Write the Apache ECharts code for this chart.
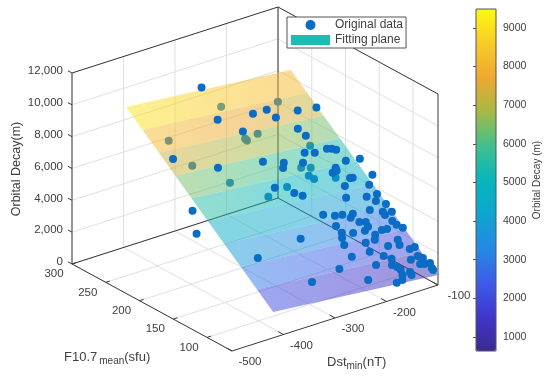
<!DOCTYPE html>
<html>
<head>
<meta charset="utf-8">
<style>html,body{margin:0;padding:0;background:#fff}#c{width:550px;height:380px}</style>
<script src="https://cdn.jsdelivr.net/npm/echarts@6/dist/echarts.min.js"></script>
</head>
<body>
<div id="c"></div>
<script>
// ---- data ----
const topDst = [-276,-288,-222,-194,-188,-260,-410,-345,-263,-274,-143,-108,-165,-160,-182,-165,-140,-132,-126,-123,-97,-229,-237,-197,-148,-159,-150,-137,-132,-95,-113,-155,-248,-237,-131,-111,-167,-121,-108,-142,-122,-123,-107,-226,-207,-194,-175,-183,-174,-163,-165,-175,-218,-198,-216,-222,-227,-188,-163,-169,-146,-136,-118,-115,-108,-131,-134,-155,-122,-111,-292,-387,-192,-228,-174,-164,-133,-117,-111,-123,-116,-105,-108,-108,-198,-171,-165,-162,-150,-149,-165,-172,-184,-264,-325,-229,-439,-460];
const topF107 = [279,246,244,245,236,230,219,202,198,172,238,237,221,213,198,196,197,196,194,182,181,193,188,189,178,174,175,165,165,164,155,159,163,159,145,145,148,139,134,132,128,124,126,137,134,133,132,129,123,122,117,114,124,114,117,112,105,103,108,104,111,111,117,113,109,99,94,95,88,89,120,111,94,93,87,83,78,80,77,72,71,71,66,64,80,77,74,71,64,67,66,61,60,84,78,68,168,146];
const topDecay = [9252,8112,7847,7788,7440,7445,7536,6706,6314,5402,7368,7217,6840,6534,6049,5923,5889,5826,5746,5298,5180,6020,5887,5781,5219,5110,5119,4750,4712,4548,4305,4578,5015,4814,3979,3941,4214,3748,3534,3560,3337,3225,3224,4006,3825,3767,3657,3565,3346,3258,3087,3008,3519,3100,3239,3093,2862,2643,2765,2618,2823,2789,2961,2781,2617,2328,2157,2278,1913,1909,3579,3565,2329,2410,2035,1847,1578,1607,1486,1348,1297,1251,1080,1008,1873,1672,1550,1411,1126,1239,1239,1106,1081,2221,2181,1534,5761,5037];
const underDst = [-255,-154,-226,-253,-252,-383,-374,-331,-153,-194,-178,-148,-191,-186,-241,-284];
const underF107 = [266,259,234,232,230,246,218,195,212,194,192,178,185,181,179,174];
const underDecay = [8118,7546,6861,6878,6795,7777,6755,5778,5854,5323,5197,4589,4987,4836,4943,4889];

const planeDstRange = [-420, -100];
const planeF107Edges = [63,87.2,111.4,135.7,159.9,184.1,208.3,232.6,256.8,281];
const planeZAtLeft  = [1622,2493,3365,4239,5110,5982,6853,7728,8599,9470];
const planeZAtRight = [630,1501,2373,3247,4118,4990,5861,6736,7607,8478];

const dstTicks = [-500,-400,-300,-200,-100];
const f107Ticks = [300,250,200,150,100];
const zTicks = [0,2000,4000,6000,8000,10000,12000];
const zTickLabels = ['0','2,000','4,000','6,000','8,000','10,000','12,000'];
const cbarTicks = [1000,2000,3000,4000,5000,6000,7000,8000,9000];
const cbarRange = [637, 9490];
const palette = ['#3b2a8f','#4036cc','#3d5ce8','#2589e4','#0ea5cf','#07b6bb','#40c08e','#a6b944','#f0a830','#f9cb28','#fbfb10'];

// ---- orthographic 3D view ----
const DMIN=-500, DMAX=-100, FMIN=63, FMAX=300, ZMAX=12000;
function project(D,F,Z){
  return [
    232 + (D-DMIN)*206/400 - (F-FMIN)*160/237,
    351 - (D-DMIN)*66/400 - (F-FMIN)*87/237 - Z*191/ZMAX
  ];
}
function colorAt(z){
  const t=(z-cbarRange[0])/(cbarRange[1]-cbarRange[0]);
  return echarts.color.lerp(Math.max(0,Math.min(1,t)),palette);
}
function withAlpha(c,a){ return echarts.color.modifyAlpha(c,a); }

// ---- segments ----
const gridSegs=[], boxSegs=[], tickSegs=[];
dstTicks.forEach(D=>{
  gridSegs.push([D,FMIN,0,D,FMAX,0]);
  gridSegs.push([D,FMAX,0,D,FMAX,ZMAX]);
  tickSegs.push([D,FMIN,0,D,FMIN+8,0]);
});
f107Ticks.forEach(F=>{
  gridSegs.push([DMIN,F,0,DMAX,F,0]);
  gridSegs.push([DMAX,F,0,DMAX,F,ZMAX]);
  tickSegs.push([DMIN,F,0,DMIN+8,F,0]);
});
zTicks.forEach(Z=>{
  gridSegs.push([DMIN,FMAX,Z,DMAX,FMAX,Z]);
  gridSegs.push([DMAX,FMAX,Z,DMAX,FMIN,Z]);
  tickSegs.push([DMIN,FMAX,Z,DMIN,FMAX+6,Z]);
});
boxSegs.push(
  [DMIN,FMAX,0,DMIN,FMAX,ZMAX],
  [DMAX,FMAX,0,DMAX,FMAX,ZMAX],
  [DMAX,FMIN,0,DMAX,FMIN,ZMAX],
  [DMIN,FMAX,ZMAX,DMAX,FMAX,ZMAX],
  [DMAX,FMAX,ZMAX,DMAX,FMIN,ZMAX],
  [DMIN,FMAX,0,DMAX,FMAX,0],
  [DMAX,FMAX,0,DMAX,FMIN,0],
  [DMIN,FMAX,0,DMIN,FMIN,0],
  [DMIN,FMIN,0,DMAX,FMIN,0]
);
function segSeries(name,data,color,width,z){
  return {
    type:'custom', name, coordinateSystem:'cartesian2d', xAxisIndex:0, yAxisIndex:0,
    silent:true, clip:false, data, z,
    renderItem(p,api){
      const a=api.coord(project(api.value(0),api.value(1),api.value(2)));
      const b=api.coord(project(api.value(3),api.value(4),api.value(5)));
      return {type:'line',shape:{x1:a[0],y1:a[1],x2:b[0],y2:b[1]},style:{stroke:color,lineWidth:width,fill:null}};
    }
  };
}
function pts(Ds,Fs,Zs){ return Ds.map((d,i)=>project(d,Fs[i],Zs[i])); }
function labelSeries(items,opts){
  return {
    type:'custom', coordinateSystem:'cartesian2d', xAxisIndex:0, yAxisIndex:0, silent:true, clip:false, z:8,
    data: items.map(it=>it.pos),
    renderItem(p,api){
      const c=api.coord([api.value(0),api.value(1)]);
      const it=items[p.dataIndex];
      return {type:'text',x:c[0]+it.dx,y:c[1]+it.dy,style:{text:it.text,fill:'#404040',font:'11.5px "Liberation Sans",Arial,sans-serif',align:opts.align,verticalAlign:'middle'}};
    }
  };
}
const zLabelItems = zTicks.map((z,i)=>({pos:project(DMIN,FMAX,z),text:zTickLabels[i],dx:-9,dy:-2}));
const fLabelItems = f107Ticks.map(f=>({pos:project(DMIN,f,0),text:String(f),dx:-18,dy:10}));
const dLabelItems = dstTicks.map(d=>({pos:project(d,FMIN,0),text:String(d),dx:d===-100?21:18,dy:11}));

const planeRows = planeF107Edges.slice(0,-1).map((f,i)=>[i]);

const option = {
  animation:false,
  backgroundColor:'#fff',
  textStyle:{fontFamily:'"Liberation Sans",Arial,sans-serif'},
  grid:[
    {left:0,right:0,top:0,bottom:0,show:false},
    {left:476,width:20,top:9,height:342,show:true,borderColor:'#555',borderWidth:1,backgroundColor:'transparent',z:5}
  ],
  xAxis:[
    {type:'value',gridIndex:0,min:0,max:550,show:false},
    {type:'value',gridIndex:1,min:0,max:1,show:false}
  ],
  yAxis:[
    {type:'value',gridIndex:0,min:0,max:380,inverse:true,show:false},
    {type:'value',gridIndex:1,position:'right',min:cbarRange[0],max:cbarRange[1],
     axisLine:{show:false},splitLine:{show:false},
     axisTick:{show:true,inside:true,length:3,lineStyle:{color:'#555'},customValues:cbarTicks},
     axisLabel:{color:'#404040',fontSize:10.5,margin:7,customValues:cbarTicks,formatter:v=>String(v)},
     name:'Orbital Decay (m)',nameLocation:'middle',nameRotate:90,nameGap:36,
     nameTextStyle:{color:'#404040',fontSize:10}
    }
  ],
  visualMap:[{
    type:'continuous',seriesIndex:0,dimension:2,min:cbarRange[0],max:cbarRange[1],
    left:476,top:9,itemWidth:20,itemHeight:342,calculable:false,realtime:false,hoverLink:false,
    inRange:{color:palette},text:null,showLabel:false,padding:0,z:4
  }],
  legend:{
    left:287,top:17,orient:'vertical',selectedMode:false,
    backgroundColor:'#fff',borderColor:'#555',borderWidth:1,borderRadius:0,padding:[2,3,2,4],
    itemWidth:39,itemHeight:10,itemGap:3,
    textStyle:{color:'#404040',fontSize:12,fontFamily:'"Liberation Sans",Arial,sans-serif'},
    data:[{name:'Original data',icon:'circle'},{name:'Fitting plane',icon:'rect',itemStyle:{color:'#1dbcb0'}}],
    z:20
  },
  graphic:[
    {type:'text',x:17,y:169,rotation:Math.PI/2,style:{text:'Orbital Decay(m)',fill:'#404040',font:'12.5px "Liberation Sans",Arial,sans-serif',align:'center',verticalAlign:'middle'}},
    {type:'text',x:64,y:357,style:{text:'{a|F10.7}{b|mean}{a|(sfu)}',align:'left',verticalAlign:'middle',rich:{a:{fontSize:13,fill:'#404040',fontFamily:'"Liberation Sans"'},b:{fontSize:10,fill:'#404040',padding:[8,0,0,2],fontFamily:'"Liberation Sans"'}}}},
    {type:'text',x:327,y:362,style:{text:'{a|Dst}{b|min}{a|(nT)}',align:'left',verticalAlign:'middle',rich:{a:{fontSize:13,fill:'#404040',fontFamily:'"Liberation Sans"'},b:{fontSize:10,fill:'#404040',padding:[8,0,0,0],fontFamily:'"Liberation Sans"'}}}}
  ],
  series:[
    segSeries('grid',gridSegs,'#e0e0e0',1,1),
    segSeries('box',boxSegs,'#3a3a3a',1,2),
    segSeries('ticks',tickSegs,'#3a3a3a',1,2),
    {type:'scatter',name:'Original data',xAxisIndex:0,yAxisIndex:0,symbol:'circle',symbolSize:8,clip:false,silent:true,z:3,
     itemStyle:{color:'#0a6cc4',opacity:1},data:pts(underDst,underF107,underDecay)},
    {type:'custom',name:'Fitting plane',xAxisIndex:0,yAxisIndex:0,clip:false,silent:true,z:4,
     itemStyle:{color:'#1dbcb0'},
     data:planeRows,
     renderItem(p,api){
       const i=p.dataIndex;
       const D0=planeDstRange[0],D1=planeDstRange[1];
       const F0=planeF107Edges[i],F1=planeF107Edges[i+1];
       const c=[
         project(D0,F0,planeZAtLeft[i]),project(D1,F0,planeZAtRight[i]),
         project(D1,F1,planeZAtRight[i+1]),project(D0,F1,planeZAtLeft[i+1])
       ].map(q=>api.coord(q));
       const zl=(planeZAtLeft[i]+planeZAtLeft[i+1])/2, zr=(planeZAtRight[i]+planeZAtRight[i+1])/2;
       const fill=new echarts.graphic.LinearGradient(c[0][0],c[0][1],c[1][0],c[1][1],[
         {offset:0,color:withAlpha(colorAt(zl),0.5)},
         {offset:0.5,color:withAlpha(colorAt((zl+zr)/2),0.5)},
         {offset:1,color:withAlpha(colorAt(zr),0.5)}
       ],true);
       return {type:'polygon',shape:{points:c},style:{fill:fill,stroke:null}};
     }
    },
    {type:'scatter',name:'Original data',xAxisIndex:0,yAxisIndex:0,symbol:'circle',symbolSize:8,clip:false,silent:true,z:6,
     itemStyle:{color:'#0a6cc4',opacity:1},data:pts(topDst,topF107,topDecay)},
    labelSeries(zLabelItems,{align:'right'}),
    labelSeries(fLabelItems,{align:'center'}),
    labelSeries(dLabelItems,{align:'center'})
  ]
};
const chart=echarts.init(document.getElementById('c'),null,{renderer:'canvas',width:550,height:380});
chart.setOption(option);
</script>
</body>
</html>
